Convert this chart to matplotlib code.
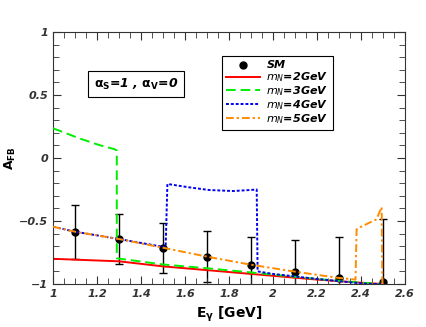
import numpy as np
import matplotlib
matplotlib.use('Agg')
import matplotlib.pyplot as plt
from matplotlib.ticker import MultipleLocator
from matplotlib.lines import Line2D

# SM points with error bars
sm_x = [1.1, 1.3, 1.5, 1.7, 1.9, 2.1, 2.3, 2.5]
sm_y = [-0.585, -0.643, -0.712, -0.783, -0.847, -0.902, -0.952, -0.987]
sm_err = [0.215, 0.2, 0.198, 0.205, 0.222, 0.252, 0.322, 0.5]

# mN = 2 GeV
m2_x = [1.0, 1.3, 1.5, 1.7, 2.0, 2.2, 2.4, 2.5]
m2_y = [-0.80, -0.82, -0.86, -0.89, -0.935, -0.965, -0.99, -1.0]

# mN = 3 GeV
m3_x = [1.0, 1.12, 1.21, 1.28, 1.29, 1.29, 1.5, 1.7, 2.0, 2.2, 2.4, 2.5]
m3_y = [0.236, 0.156, 0.103, 0.07, 0.06, -0.796, -0.845, -0.875, -0.925, -0.96, -0.99, -1.0]

# mN = 4 GeV
m4_x = [1.0, 1.1, 1.3, 1.5, 1.512, 1.52, 1.62, 1.71, 1.82, 1.895, 1.926, 1.93, 2.0, 2.2, 2.4, 2.45, 2.5]
m4_y = [-0.545, -0.585, -0.643, -0.705, -0.71, -0.206, -0.233, -0.254, -0.262, -0.254, -0.25,
        -0.90, -0.92, -0.96, -0.995, -1.0, -1.0]

# mN = 5 GeV
m5_x = [1.0, 1.1, 1.3, 1.5, 1.7, 1.9, 2.1, 2.3, 2.375, 2.38, 2.395, 2.47, 2.494, 2.497]
m5_y = [-0.545, -0.585, -0.643, -0.712, -0.783, -0.847, -0.902, -0.952, -0.965, -0.566,
        -0.55, -0.487, -0.39, -1.0]

tick_col = '#333333'

fig = plt.figure(figsize=(4.26, 3.27), dpi=100)
ax = fig.add_axes([0.1244, 0.1315, 0.8263, 0.7705])

ax.errorbar(sm_x, sm_y, yerr=sm_err, fmt='o', color='black', ms=5, capsize=3,
            elinewidth=1, capthick=1, zorder=1)
l2, = ax.plot(m2_x, m2_y, color='red', lw=1.4, zorder=2)
l3, = ax.plot(m3_x, m3_y, color='#00ee00', lw=1.4, ls=(0, (5, 2.5)), zorder=3)
l4, = ax.plot(m4_x, m4_y, color='#0000ee', lw=1.4, ls=(0, (1.5, 1)), zorder=4)
l5, = ax.plot(m5_x, m5_y, color='#ff8c00', lw=1.4, ls=(0, (4, 1.5, 1.2, 1.5)), zorder=5)
sm_handle = Line2D([], [], ls='none', marker='o', color='black', ms=5)

ax.set_xlim(1, 2.6)
ax.set_ylim(-1, 1)
ax.xaxis.set_major_locator(MultipleLocator(0.2))
ax.xaxis.set_minor_locator(MultipleLocator(0.05))
ax.yaxis.set_major_locator(MultipleLocator(0.5))
ax.yaxis.set_minor_locator(MultipleLocator(0.1))
ax.tick_params(which='both', direction='in', top=True, right=True, colors=tick_col,
               labelsize=8)
ax.tick_params(which='major', length=6)
ax.tick_params(which='minor', length=4)
fmt = plt.FuncFormatter(lambda v, p: ('%g' % v).replace('-', '\u2212'))
ax.xaxis.set_major_formatter(fmt)
ax.yaxis.set_major_formatter(fmt)
for lab in ax.get_xticklabels() + ax.get_yticklabels():
    lab.set_fontweight('bold')
    lab.set_fontstyle('italic')
for s in ax.spines.values():
    s.set_color(tick_col)

ax.set_xlabel(r'E$_\mathbf{\gamma}$ [GeV]', fontsize=10, fontweight='bold')
ax.set_ylabel(r'A$_\mathbf{FB}$', fontsize=9, fontweight='bold')
ax.yaxis.set_label_coords(-0.1, 0.5)

ax.text(1.377, 0.587, r'$\mathbf{\alpha_S}$=1 , $\mathbf{\alpha_V}$=0', ha='center', va='center',
        fontsize=9, fontweight='bold', fontstyle='italic',
        bbox=dict(boxstyle='square,pad=0.45', fc='white', ec='black', lw=0.8))

names = ['SM', r'$\mathbf{\mathit{m_N}}$=2GeV', r'$\mathbf{\mathit{m_N}}$=3GeV',
         r'$\mathbf{\mathit{m_N}}$=4GeV', r'$\mathbf{\mathit{m_N}}$=5GeV']
leg = ax.legend([sm_handle, l2, l3, l4, l5], names, loc='upper left',
                bbox_to_anchor=(0.48, 0.905), borderaxespad=0, handlelength=3,
                fancybox=False, edgecolor='black', framealpha=1, borderpad=0.4,
                labelspacing=0.0, handletextpad=0.6,
                prop=dict(weight='bold', style='italic', size=8))
leg.get_frame().set_linewidth(0.8)

fig.savefig('out.png', dpi=100)
